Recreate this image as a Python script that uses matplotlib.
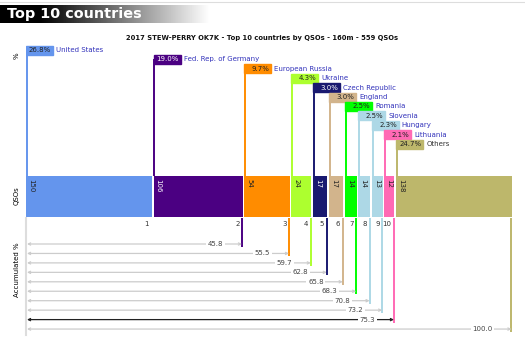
import numpy as np
import matplotlib
matplotlib.use("Agg")
import matplotlib.pyplot as plt
from matplotlib.patches import Rectangle

countries = ["United States", "Fed. Rep. of Germany", "European Russia", "Ukraine",
             "Czech Republic", "England", "Romania", "Slovenia", "Hungary",
             "Lithuania", "Others"]
qsos = [150, 106, 54, 24, 17, 17, 14, 14, 13, 12, 138]
percent = [26.8, 19.0, 9.7, 4.3, 3.0, 3.0, 2.5, 2.5, 2.3, 2.1, 24.7]
# accumulated % shown for ranks 2..10 and Others
accumulated = [45.8, 55.5, 59.7, 62.8, 65.8, 68.3, 70.8, 73.2, 75.3, 100.0]
colors = ["#6495ED", "#4B0082", "#FF8C00", "#ADFF2F", "#191970", "#D2B48C",
          "#00FF00", "#ADD8E6", "#ADD8E6", "#FF69B4", "#BDB76B"]
dark_bars = {"#4B0082", "#191970"}

W, H = 525, 342
fig = plt.figure(figsize=(W / 100, H / 100), dpi=100)
fig.patch.set_facecolor("white")

# header strip with gradient
hax = fig.add_axes([0, 1 - 23 / H, 210 / W, 18 / H])
grad = np.concatenate([np.zeros(40), np.linspace(0, 1, 170)])
hax.imshow(grad[None, :], cmap="gray", aspect="auto", extent=[0, 210, 0, 1], vmin=0, vmax=1)
hax.axis("off")
hax.text(7, 0.5, "Top 10 countries", color="white", fontsize=10.4, weight="bold",
         ha="left", va="center")
fig.add_artist(plt.Line2D([0, 1], [1 - 1.5 / H, 1 - 1.5 / H], color="#dddddd", lw=0.8))

# main axes: x in QSO units, y in pixel rows from the top
x0, x1 = 26, 512
gap = 2.0
total = sum(qsos) + gap * (len(qsos) - 1)
u = total / (x1 - x0)  # units per pixel
ax = fig.add_axes([x0 / W, 0, (x1 - x0) / W, 1])
ax.set_xlim(0, total)
ax.set_ylim(H, 0)
ax.axis("off")

lefts = np.cumsum([0] + qsos[:-1]) + gap * np.arange(len(qsos))
rights = lefts + np.array(qsos)

bar_top, bar_h = 176, 41
ax.bar(lefts, bar_h, width=qsos, bottom=bar_top, align="edge", color=colors, zorder=2)

for i, (l, r, q, c) in enumerate(zip(lefts, rights, qsos, colors)):
    tc = "white" if c in dark_bars else "#222222"
    ax.text(l + 2 * u, bar_top + 3, str(q), rotation=-90, fontsize=5, color=tc,
            ha="left", va="top", zorder=3)

    # stepped labels above
    ly = 50 + 9.4 * i
    ax.plot([l + 0.8 * u, l + 0.8 * u], [ly, bar_top], color=c, lw=1.4, zorder=1,
            solid_capstyle="butt")
    ax.add_patch(Rectangle((l, ly - 4.5), 27 * u, 9, color=c, zorder=2))
    ax.text(l + 25 * u, ly, f"{percent[i]:.1f}%", fontsize=5, color=tc,
            ha="right", va="center", zorder=3)
    nc = "#333333" if countries[i] == "Others" else "#3333bb"
    ax.text(l + 30 * u, ly, countries[i], fontsize=5, color=nc, ha="left",
            va="center", zorder=3)

    if i < 10:
        ax.text(r - 3 * u, 224, str(i + 1), fontsize=5, color="#333333",
                ha="right", va="center")

# left grey axis of accumulated section
ax.plot([0, 0], [218, 335], color="#dddddd", lw=1.5, clip_on=False)

for k, acc in enumerate(accumulated):
    i = k + 1
    ry = 244 + 9.45 * k
    xr = rights[i] - 0.5 * u
    ax.plot([xr, xr], [218, ry + 3], color=colors[i], lw=1.4, solid_capstyle="butt")
    lc = "#222222" if acc == 75.3 else "#cccccc"
    ax.annotate("", xy=(xr, ry), xytext=(1 * u, ry),
                arrowprops=dict(arrowstyle="<->", color=lc, lw=0.9,
                                mutation_scale=4, shrinkA=0, shrinkB=0))
    ax.text(xr - 19 * u, ry, f"{acc:.1f}", fontsize=5, color="#444444", ha="right",
            va="center", bbox=dict(facecolor="white", edgecolor="none", pad=1.2))

# titles and axis labels
fig.text(262 / W, 1 - 38 / H, "2017 STEW-PERRY OK7K - Top 10 countries by QSOs - 160m - 559 QSOs",
         fontsize=4.9, weight="bold", ha="center", va="center", color="#111111")
fig.text(17 / W, 1 - 56 / H, "%", rotation=90, fontsize=5, ha="center", va="center")
fig.text(17 / W, 1 - 196 / H, "QSOs", rotation=90, fontsize=5, ha="center", va="center")
fig.text(17 / W, 1 - 270 / H, "Accumulated %", rotation=90, fontsize=5, ha="center", va="center")

fig.savefig("out.png", dpi=100)
